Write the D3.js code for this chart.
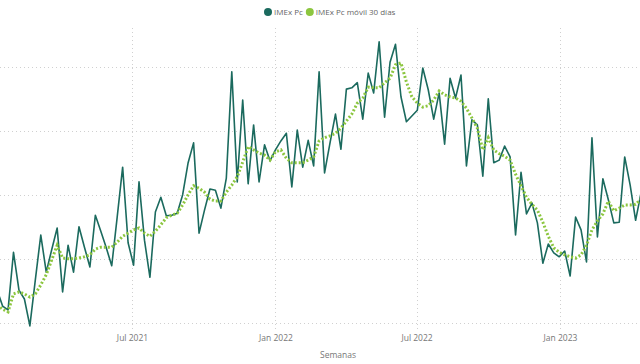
<!DOCTYPE html>
<html>
<head>
<meta charset="utf-8">
<script src="https://d3js.org/d3.v7.min.js"></script>
<style>
  body { margin: 0; background: #fff; }
  .chart text { font-family: "Segoe UI", "Open Sans", "Noto Sans", sans-serif; }
</style>
</head>
<body>
<div class="chart"></div>
<script>
// Weekly data, first week 9 Jan 2021
var firstWeek = "2021-01-09";

var imexPc = [
  65.1, 62.6, 62.0, 71.0, 65.1, 63.7, 59.5, 66.7, 73.7, 67.9, 71.4,
  74.8, 64.8, 72.1, 67.9, 75.0, 71.8, 68.7, 76.8, 74.3, 71.7,
  68.9, 76.5, 84.3, 72.5, 69.0, 82.0, 72.9, 67.1, 77.3, 79.6,
  76.7, 76.8, 77.1, 80.0, 85.0, 88.1, 74.0, 77.6, 80.9, 80.7,
  77.9, 82.6, 99.2, 82.0, 94.8, 81.7, 90.9, 82.0, 87.8, 85.3,
  87.0, 88.4, 89.6, 81.2, 90.1, 84.3, 88.5, 84.5, 99.2, 83.4,
  88.1, 92.6, 87.1, 96.5, 96.7, 97.5, 91.8, 99.0, 95.9, 103.9,
  92.1, 100.7, 103.5, 95.3, 91.4, 92.3, 93.2, 99.8, 96.4, 91.8,
  95.9, 87.9, 98.2, 95.1, 98.7, 84.5, 91.7, 90.9, 82.9, 95.0,
  85.0, 85.4, 87.6, 85.9, 73.7, 83.5, 77.0, 78.7, 75.6, 69.3,
  72.3, 70.9, 70.3, 71.2, 67.3, 76.5, 74.5, 69.5, 88.9, 73.4,
  82.5, 79.2, 75.6, 75.7, 85.9, 81.5, 76.0, 80.3
];

var imexMovil = [
  62.8, 62.1, 61.7, 64.5, 64.8, 64.5, 64.0, 64.5, 65.9, 67.5, 69.8,
  72.1, 70.1, 70.0, 70.0, 70.1, 70.3, 70.6, 71.5, 71.8, 71.8,
  71.8, 72.6, 73.5, 74.0, 74.5, 74.8, 74.0, 73.5, 74.3, 75.3,
  76.4, 76.8, 77.1, 78.4, 80.0, 81.4, 81.0, 80.4, 79.3, 79.0,
  79.0, 80.4, 81.5, 82.8, 85.1, 87.5, 87.0, 86.5, 86.2, 85.4,
  86.7, 87.0, 85.7, 85.0, 85.0, 85.0, 85.4, 85.9, 88.4, 88.9,
  89.2, 89.6, 90.4, 91.5, 92.6, 94.3, 95.1, 96.8, 96.7, 96.7,
  97.5, 98.2, 100.3, 100.6, 97.6, 95.3, 94.3, 93.7, 93.9, 94.8,
  96.2, 95.6, 95.3, 95.1, 94.6, 93.5, 92.0, 90.4, 87.0, 88.9,
  87.0, 86.4, 86.0, 85.4, 83.2, 81.4, 79.6, 78.5, 77.6, 75.7,
  73.5, 71.7, 71.0, 70.6, 70.3, 70.1, 70.6, 72.1, 74.5, 75.9,
  77.0, 79.0, 77.5, 77.9, 78.4, 78.4, 78.5, 79.3
];

var tickDates = ["2021-07-01", "2022-01-01", "2022-07-01", "2023-01-01"];
var tickLabels = ["Jul 2021", "Jan 2022", "Jul 2022", "Jan 2023"];
var yTicks = [60, 70, 80, 90, 100];

var seriesNames = ["IMEx Pc", "IMEx Pc móvil 30 días"];
var darkColor = "#1b6a5e";
var lightColor = "#8cc63f";

var svgWidth = 640;
var svgHeight = 364;

var svg = d3.select(".chart")
    .append("svg")
    .attr("width", svgWidth)
    .attr("height", svgHeight);

var parse = d3.timeParse("%Y-%m-%d");
var start = parse(firstWeek);
var data = imexPc.map(function(v, i) {
    return { date: d3.timeDay.offset(start, i * 7), pc: v, movil: imexMovil[i] };
});

// Scales
var xScale = d3.scaleTime()
    .domain([parse(tickDates[0]), parse(tickDates[3])])
    .range([132, 560]);

var yScale = d3.scaleLinear()
    .domain([60, 100])
    .range([322.7, 66.7]);

// Gridlines
svg.append("g")
    .selectAll("line")
    .data(yTicks)
    .enter()
    .append("line")
    .attr("x1", 0)
    .attr("x2", svgWidth)
    .attr("y1", d => Math.round(yScale(d)) + 0.5)
    .attr("y2", d => Math.round(yScale(d)) + 0.5)
    .attr("stroke", "#d0d0d0")
    .attr("stroke-width", 1)
    .attr("stroke-dasharray", "1,3");

svg.append("g")
    .selectAll("line")
    .data(tickDates)
    .enter()
    .append("line")
    .attr("x1", d => Math.round(xScale(parse(d))) + 0.5)
    .attr("x2", d => Math.round(xScale(parse(d))) + 0.5)
    .attr("y1", 28)
    .attr("y2", 332)
    .attr("stroke", "#d0d0d0")
    .attr("stroke-width", 1)
    .attr("stroke-dasharray", "1,3");

// X axis labels
var bottomAxis = d3.axisBottom(xScale)
    .tickValues(tickDates.map(parse))
    .tickFormat((d, i) => tickLabels[i])
    .tickSize(0)
    .tickPadding(0);

var xAxis = svg.append("g")
    .attr("transform", "translate(0, 335)")
    .call(bottomAxis);
xAxis.select(".domain").remove();
xAxis.selectAll("text")
    .attr("fill", "#777")
    .style("font-size", "8.5px");

svg.append("text")
    .attr("x", 338)
    .attr("y", 358)
    .attr("text-anchor", "middle")
    .attr("fill", "#777")
    .style("font-size", "8.5px")
    .text("Semanas");

// Lines
var linePc = d3.line()
    .x(d => xScale(d.date))
    .y(d => yScale(d.pc));

var lineMovil = d3.line()
    .x(d => xScale(d.date))
    .y(d => yScale(d.movil));

svg.append("path")
    .datum(data)
    .attr("d", linePc)
    .attr("fill", "none")
    .attr("stroke", darkColor)
    .attr("stroke-width", 1.6)
    .attr("stroke-linejoin", "round");

svg.append("path")
    .datum(data)
    .attr("d", lineMovil)
    .attr("fill", "none")
    .attr("stroke", lightColor)
    .attr("stroke-width", 3)
    .attr("stroke-linecap", "butt")
    .attr("stroke-dasharray", "2,2");

// Legend
var legend = svg.append("g")
    .attr("transform", "translate(268, 12)");

var legendX = [0, 40];
var legendColors = [darkColor, lightColor];

var items = legend.selectAll("g")
    .data(seriesNames)
    .enter()
    .append("g")
    .attr("transform", (d, i) => `translate(${legendX[i]}, 0)`);

items.append("circle")
    .attr("r", 4)
    .attr("fill", (d, i) => legendColors[i]);

items.append("text")
    .attr("x", 6)
    .attr("dy", "0.35em")
    .attr("fill", "#666")
    .style("font-size", "8px")
    .text(d => d);

// keep a small gap between the legend items
var firstWidth = items.filter((d, i) => i === 0).select("text").node().getComputedTextLength();
items.filter((d, i) => i === 1)
    .attr("transform", `translate(${6 + firstWidth + 7}, 0)`);
</script>
</body>
</html>
